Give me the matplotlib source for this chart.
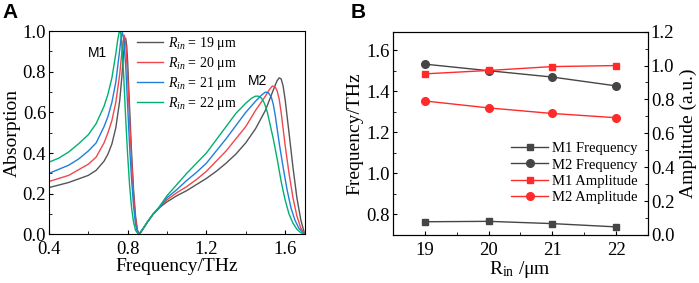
import numpy as np
import matplotlib
matplotlib.use("Agg")
import matplotlib.pyplot as plt
from matplotlib.ticker import MultipleLocator

# ---- Panel A: absorption spectra for different R_in ----
f19 = [0.40, 0.50, 0.60, 0.64, 0.68, 0.70, 0.72, 0.74, 0.76, 0.77, 0.78, 0.785,
       0.79, 0.795, 0.80, 0.81, 0.82, 0.83, 0.84, 0.85, 0.86, 0.88, 0.90, 0.93,
       0.96, 1.00, 1.05, 1.10, 1.15, 1.20, 1.25, 1.30, 1.35, 1.40, 1.45, 1.50,
       1.53, 1.55, 1.56, 1.57, 1.58, 1.59, 1.60, 1.62, 1.64, 1.66, 1.68, 1.70]
a19 = [0.23, 0.255, 0.29, 0.315, 0.36, 0.395, 0.445, 0.525, 0.66, 0.77, 0.895, 0.95,
       0.965, 0.93, 0.85, 0.62, 0.40, 0.22, 0.09, 0.02, 0.0, 0.03, 0.06, 0.10,
       0.13, 0.16, 0.19, 0.215, 0.245, 0.275, 0.31, 0.35, 0.395, 0.45, 0.52, 0.61,
       0.685, 0.735, 0.757, 0.77, 0.765, 0.73, 0.665, 0.50, 0.33, 0.18, 0.07, 0.0]

f20 = [0.40, 0.50, 0.60, 0.64, 0.68, 0.70, 0.72, 0.74, 0.76, 0.77, 0.777, 0.783,
       0.79, 0.80, 0.81, 0.82, 0.83, 0.84, 0.85, 0.86, 0.88, 0.90, 0.93, 0.96,
       1.00, 1.05, 1.10, 1.15, 1.20, 1.25, 1.30, 1.35, 1.40, 1.45, 1.50, 1.52,
       1.535, 1.55, 1.56, 1.57, 1.58, 1.60, 1.62, 1.64, 1.66, 1.68, 1.70]
a20 = [0.26, 0.29, 0.345, 0.38, 0.45, 0.50, 0.56, 0.65, 0.79, 0.89, 0.95, 0.98,
       0.94, 0.78, 0.56, 0.36, 0.19, 0.07, 0.015, 0.0, 0.03, 0.06, 0.10, 0.13,
       0.17, 0.205, 0.235, 0.27, 0.31, 0.36, 0.41, 0.47, 0.53, 0.61, 0.68, 0.712,
       0.73, 0.725, 0.705, 0.665, 0.60, 0.44, 0.30, 0.18, 0.09, 0.03, 0.0]

f21 = [0.40, 0.50, 0.55, 0.60, 0.64, 0.68, 0.70, 0.72, 0.74, 0.76, 0.767, 0.773,
       0.78, 0.79, 0.80, 0.81, 0.82, 0.83, 0.84, 0.85, 0.86, 0.88, 0.90, 0.93,
       0.96, 1.00, 1.05, 1.10, 1.15, 1.20, 1.25, 1.30, 1.35, 1.40, 1.45, 1.48,
       1.50, 1.515, 1.53, 1.54, 1.55, 1.57, 1.59, 1.61, 1.63, 1.65, 1.67, 1.70]
a21 = [0.30, 0.34, 0.37, 0.41, 0.45, 0.53, 0.58, 0.65, 0.75, 0.91, 0.97, 0.995,
       0.96, 0.83, 0.63, 0.43, 0.27, 0.14, 0.05, 0.01, 0.0, 0.03, 0.06, 0.10,
       0.13, 0.18, 0.22, 0.265, 0.305, 0.35, 0.41, 0.47, 0.535, 0.60, 0.655, 0.685,
       0.70, 0.697, 0.675, 0.64, 0.585, 0.45, 0.33, 0.22, 0.13, 0.07, 0.03, 0.0]

f22 = [0.40, 0.45, 0.50, 0.55, 0.60, 0.64, 0.68, 0.70, 0.72, 0.74, 0.75, 0.758,
       0.765, 0.77, 0.78, 0.79, 0.80, 0.81, 0.82, 0.83, 0.84, 0.855, 0.88, 0.90,
       0.93, 0.96, 1.00, 1.05, 1.10, 1.15, 1.20, 1.25, 1.30, 1.35, 1.40, 1.43,
       1.45, 1.465, 1.48, 1.495, 1.51, 1.54, 1.56, 1.58, 1.60, 1.62, 1.64, 1.66,
       1.68, 1.70]
a22 = [0.355, 0.375, 0.405, 0.445, 0.49, 0.545, 0.63, 0.69, 0.77, 0.89, 0.96, 1.0,
       0.99, 0.94, 0.78, 0.57, 0.39, 0.24, 0.13, 0.06, 0.02, 0.0, 0.03, 0.06,
       0.10, 0.135, 0.19, 0.245, 0.30, 0.35, 0.40, 0.465, 0.53, 0.595, 0.645, 0.67,
       0.68, 0.68, 0.67, 0.645, 0.60, 0.47, 0.37, 0.26, 0.17, 0.10, 0.055, 0.025,
       0.008, 0.0]

spectra = [(f19, a19, "19"), (f20, a20, "20"), (f21, a21, "21"), (f22, a22, "22")]
spec_colors = ["#555555", "#f2474c", "#1f7fdb", "#00b06e"]

# ---- Panel B: mode frequency / amplitude vs R_in ----
r_in = [19, 20, 21, 22]
m1_freq = [0.764, 0.766, 0.755, 0.739]
m2_freq = [1.532, 1.500, 1.469, 1.426]
m1_amp = [0.951, 0.971, 0.994, 1.0]
m2_amp = [0.791, 0.750, 0.717, 0.692]

plt.rcParams["font.family"] = ["Liberation Serif", "DejaVu Serif"]
plt.rcParams["mathtext.fontset"] = "custom"
plt.rcParams["mathtext.rm"] = "Liberation Serif"
plt.rcParams["mathtext.it"] = "Liberation Serif:italic"
plt.rcParams["xtick.direction"] = "in"
plt.rcParams["ytick.direction"] = "in"

TICK = 13.5
LAB = 14

fig = plt.figure(figsize=(6.99, 2.83), dpi=100)
axA = fig.add_axes([0.070, 0.172, 0.366, 0.718])
axB = fig.add_axes([0.562, 0.170, 0.365, 0.718])

# Panel A
for (f, a, r), c in zip(spectra, spec_colors):
    axA.plot(f, a, color=c, lw=1.0, label=rf"$R_{{in}}$ = {r} μm")
axA.set_xlim(0.4, 1.7)
axA.set_ylim(0, 1.0)
axA.xaxis.set_major_locator(MultipleLocator(0.4))
axA.xaxis.set_minor_locator(MultipleLocator(0.2))
axA.yaxis.set_major_locator(MultipleLocator(0.2))
axA.yaxis.set_minor_locator(MultipleLocator(0.1))
axA.tick_params(labelsize=TICK, length=3, pad=2)
axA.tick_params(axis="x", pad=5)
axA.tick_params(which="minor", length=2)
axA.set_xlabel("Frequency/THz", fontsize=LAB, labelpad=0)
axA.set_ylabel("Absorption", fontsize=LAB, labelpad=1)
axA.text(0.645, 0.89, "M1", family="Liberation Sans", fontsize=10, ha="center", va="center")
axA.text(1.46, 0.755, "M2", family="Liberation Sans", fontsize=10, ha="center", va="center")
axA.legend(loc="upper left", bbox_to_anchor=(0.30, 1.035), frameon=False, fontsize=10,
           handlelength=1.9, labelspacing=0.22, handletextpad=0.35, borderpad=0.3)

# Panel B
gray = "#454545"
red = "#ff2a2a"
h1, = axB.plot(r_in, m1_freq, color=gray, marker="s", ms=5, lw=1.0, label="M1 Frequency")
h2, = axB.plot(r_in, m2_freq, color=gray, marker="o", ms=5.5, lw=1.0, label="M2 Frequency")
axB.set_xlim(18.5, 22.5)
axB.set_ylim(0.7, 1.69)
axB.xaxis.set_major_locator(MultipleLocator(1))
axB.xaxis.set_minor_locator(MultipleLocator(0.5))
axB.yaxis.set_major_locator(MultipleLocator(0.2))
axB.yaxis.set_minor_locator(MultipleLocator(0.1))
axB.tick_params(labelsize=TICK, length=3, pad=2)
axB.tick_params(axis="x", pad=5)
axB.tick_params(which="minor", length=2)
axB.set_xlabel(r"R$_{\mathrm{in}}$ /μm", fontsize=LAB, labelpad=0)
axB.set_ylabel("Frequency/THz", fontsize=LAB, labelpad=2)

axB2 = axB.twinx()
h3, = axB2.plot(r_in, m1_amp, color=red, marker="s", ms=5, lw=1.0, label="M1 Amplitude")
h4, = axB2.plot(r_in, m2_amp, color=red, marker="o", ms=5.5, lw=1.0, label="M2 Amplitude")
axB2.set_ylim(0, 1.2)
axB2.yaxis.set_major_locator(MultipleLocator(0.2))
axB2.yaxis.set_minor_locator(MultipleLocator(0.1))
axB2.tick_params(labelsize=TICK, length=3, direction="in", pad=2)
axB2.tick_params(which="minor", length=2, direction="in")
axB2.set_ylabel("Amplitude (a.u.)", fontsize=LAB, labelpad=4)

axB.legend(handles=[h1, h2, h3, h4], loc="lower right", bbox_to_anchor=(1.0, 0.1),
           frameon=False, fontsize=10.5, handlelength=2.5, labelspacing=0.22,
           handletextpad=0.3, borderpad=0.2)

fig.text(0.003, 0.99, "A", family="Liberation Sans", fontsize=15, fontweight="bold",
         ha="left", va="top")
fig.text(0.502, 0.99, "B", family="Liberation Sans", fontsize=15, fontweight="bold",
         ha="left", va="top")

fig.savefig("out.png", dpi=100)
